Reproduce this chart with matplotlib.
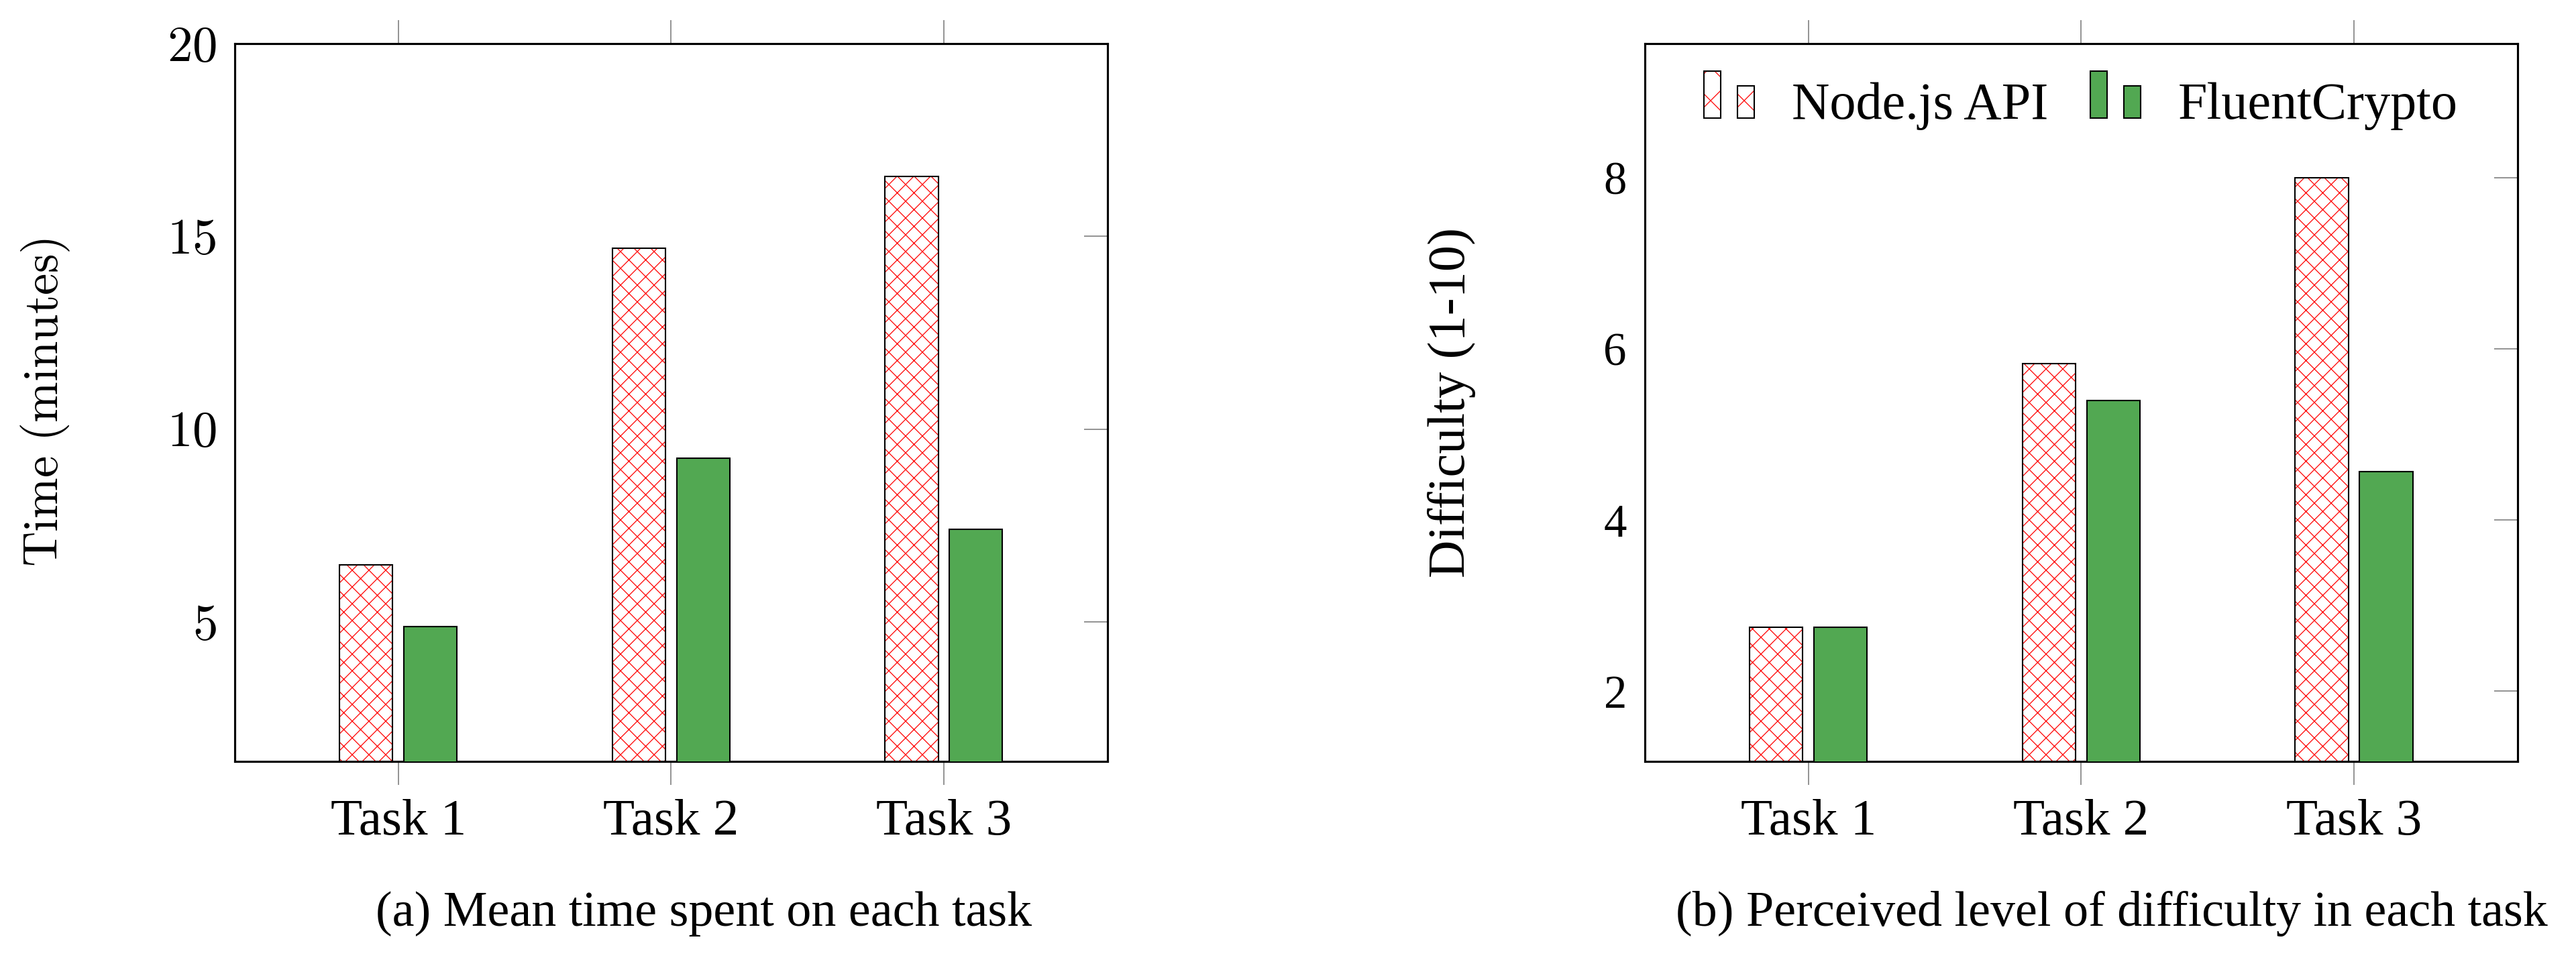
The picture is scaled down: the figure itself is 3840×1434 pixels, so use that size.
import numpy as np
import matplotlib
matplotlib.use('Agg')
import matplotlib.pyplot as plt
from matplotlib.patches import Rectangle
from matplotlib.legend_handler import HandlerBase

tasks = ['Task 1', 'Task 2', 'Task 3']
time_node = [6.48, 14.69, 16.56]
time_fluent = [4.87, 9.24, 7.40]
diff_node = [2.75, 5.83, 8.0]
diff_fluent = [2.75, 5.40, 4.57]
time_ticks = [5, 10, 15, 20]
diff_ticks = [2, 4, 6, 8]
series = ['Node.js API', 'FluentCrypto']

RED = '#ff0000'
GREEN = '#52a852'
TICKC = '#808080'

plt.rcParams['font.family'] = ['Liberation Serif', 'DejaVu Serif']
plt.rcParams['mathtext.fontset'] = 'cm'
plt.rcParams['hatch.linewidth'] = 0.6


class TwoBarHandler(HandlerBase):
    # pgfplots style ybar legend image: a tall and a short bar
    def create_artists(self, legend, orig_handle, xdescent, ydescent,
                       width, height, fontsize, trans):
        bw = width / 3.0
        arts = []
        for bx, bh in [(0, 1.28 * height), (2 * bw, 0.89 * height)]:
            x0 = bx - xdescent
            y0 = -ydescent + 0.02 * height
            if orig_handle.get_hatch():
                arts.append(Rectangle((x0, y0), bw, bh, facecolor='white', edgecolor=RED,
                                      linewidth=0, hatch=orig_handle.get_hatch(), transform=trans))
                arts.append(Rectangle((x0, y0), bw, bh, fill=False, edgecolor='black',
                                      linewidth=1.0, transform=trans))
            else:
                arts.append(Rectangle((x0, y0), bw, bh, facecolor=orig_handle.get_facecolor(),
                                      edgecolor='black', linewidth=1.0, transform=trans))
        return arts


fig = plt.figure(figsize=(25.6, 9.56), dpi=150)
ax1 = fig.add_axes([0.0911, 0.2085, 0.3388, 0.7462])
ax2 = fig.add_axes([0.6385, 0.2085, 0.3388, 0.7462])

x = np.arange(1, len(tasks) + 1)
w = 0.195
off = 0.118


def draw_bars(ax, node, fluent):
    ax.bar(x - off, node, w, color='white', edgecolor=RED, linewidth=0, hatch='xx', zorder=2)
    ax.bar(x - off, node, w, fill=False, edgecolor='black', linewidth=1.0, zorder=3)
    ax.bar(x + off, fluent, w, color=GREEN, edgecolor='black', linewidth=1.0, zorder=3)
    ax.set_xlim(0.4, 3.6)
    ax.set_xticks(x)
    ax.set_xticklabels(tasks, fontsize=37)
    ax.tick_params(axis='x', top=True, bottom=True, direction='out', length=17,
                   width=0.8, color=TICKC, pad=10)
    ax.tick_params(axis='y', left=False, right=True, direction='in', length=17,
                   width=0.8, color=TICKC, pad=13)
    for s in ax.spines.values():
        s.set_linewidth(1.5)


draw_bars(ax1, time_node, time_fluent)
ax1.set_ylim(1.38, 20)
ax1.set_yticks(time_ticks)
ax1.set_yticklabels(['$%d$' % t for t in time_ticks], fontsize=36)
ax1.set_ylabel(r'$\mathrm{Time\ (minutes)}$', fontsize=35)
ax1.yaxis.label.set_va('center')
ax1.yaxis.set_label_coords(-0.217, 0.5)

draw_bars(ax2, diff_node, diff_fluent)
ax2.set_ylim(1.18, 9.57)
ax2.set_yticks(diff_ticks)
ax2.set_yticklabels([str(t) for t in diff_ticks], fontsize=33)
ax2.set_ylabel('Difficulty (1-10)', fontsize=37.5)
ax2.yaxis.label.set_va('center')
ax2.yaxis.set_label_coords(-0.2214, 0.5)

handles = [Rectangle((0, 0), 1, 1, facecolor='white', edgecolor=RED, hatch='x'),
           Rectangle((0, 0), 1, 1, facecolor=GREEN, edgecolor='black')]
ax2.legend(handles, series, handler_map={Rectangle: TwoBarHandler()},
           loc='center left', bbox_to_anchor=(0.0676, 0.9125), ncol=2, frameon=False,
           fontsize=37.5, handlelength=0.96, handletextpad=0.72, columnspacing=0.8,
           borderpad=0, borderaxespad=0)

fig.text(0.2732, 0.0502, '(a) Mean time spent on each task', ha='center', va='center', fontsize=35.5)
fig.text(0.8198, 0.0502, '(b) Perceived level of difficulty in each task', ha='center', va='center', fontsize=35.5)

fig.savefig('out.png', dpi=150)
